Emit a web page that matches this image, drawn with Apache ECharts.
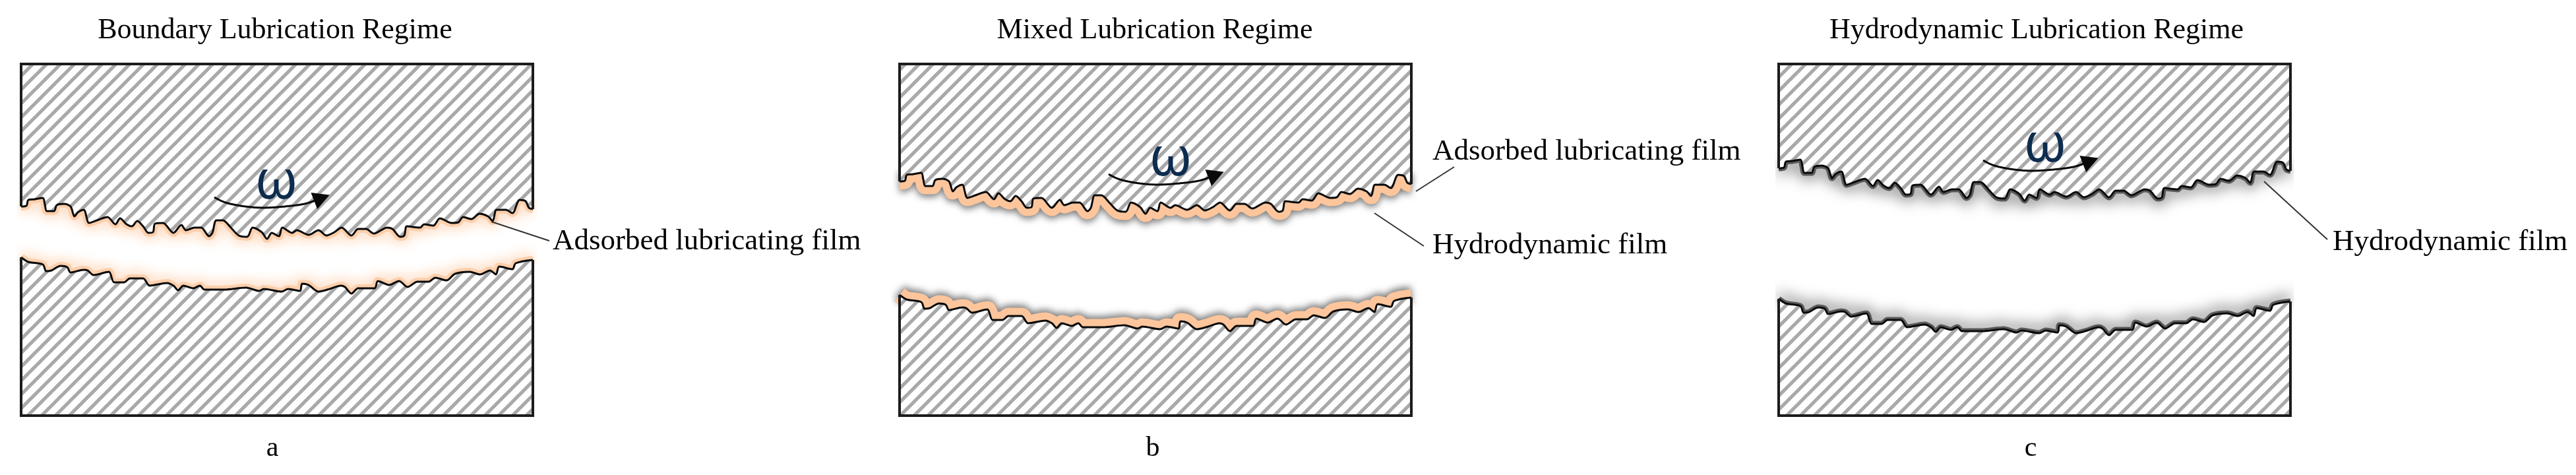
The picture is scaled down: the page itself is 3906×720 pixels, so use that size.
<!DOCTYPE html>
<html>
<head>
    <meta charset="utf-8">
    <title>Lubrication Regimes</title>
    <script src="https://cdn.jsdelivr.net/npm/echarts@6/dist/echarts.min.js"></script>
    <style type="text/css">
        html, body { margin: 0; padding: 0; background: #ffffff; }
        #main { width: 3906px; height: 720px; }
    </style>
</head>
<body>
<div id="main"></div>
<script>
    var upperX = [0, 8, 11, 21, 33, 36, 39, 50, 54, 65, 75, 81, 86, 95, 103, 115, 131, 143, 150, 160, 168, 176, 185, 193, 200, 203, 215, 231, 243, 250, 263, 273, 285, 290, 296, 306, 318, 330, 343, 351, 365, 373, 380, 391, 396, 411, 418, 436, 451, 463, 475, 486, 501, 511, 523, 535, 555, 563, 575, 581, 585, 605, 611, 625, 635, 653, 663, 670, 683, 695, 708, 715, 721, 735, 745, 756, 765, 770, 776];
    var upperY = [216, 215, 206, 205, 203, 213, 223, 223, 214, 212, 216, 231, 225, 221, 241, 237, 232, 243, 234, 243, 246, 238, 246, 256, 255, 242, 241, 256, 244, 252, 248, 248, 261, 256, 237, 237, 248, 260, 262, 248, 255, 265, 256, 261, 248, 256, 252, 259, 252, 260, 255, 248, 260, 250, 250, 257, 248, 250, 262, 260, 246, 248, 243, 245, 234, 241, 240, 232, 235, 227, 231, 238, 221, 221, 226, 206, 208, 218, 220];
    var lowerX = [0, 11, 33, 38, 46, 60, 70, 75, 95, 101, 110, 133, 141, 156, 165, 185, 195, 221, 231, 238, 246, 261, 271, 278, 308, 341, 361, 368, 395, 405, 423, 426, 436, 451, 468, 485, 491, 501, 511, 536, 541, 558, 573, 586, 601, 618, 628, 645, 658, 680, 696, 711, 720, 725, 745, 750, 776];
    var lowerY = [293, 300, 304, 314, 313, 306, 308, 316, 312, 313, 320, 315, 331, 331, 325, 325, 336, 332, 336, 343, 336, 340, 336, 342, 342, 339, 344, 341, 345, 341, 344, 333, 335, 345, 341, 336, 338, 348, 340, 340, 329, 335, 329, 338, 330, 330, 324, 328, 318, 315, 319, 313, 319, 307, 311, 302, 297];
    var arrowX = [293, 310, 340, 368, 400, 430, 448];
    var arrowY = [202, 210, 216, 218, 216, 212, 206];

    // panels
    var panelNames = ['Boundary Lubrication Regime', 'Mixed Lubrication Regime', 'Hydrodynamic Lubrication Regime'];
    var panelLetters = ['a', 'b', 'c'];
    var panelLeft = [32, 1364, 2697];
    var panelTitleX = [417, 1751, 3088];
    var panelLetterX = [413, 1748, 3079];
    var upperShift = [0, -38, -58];
    var lowerShift = [0, 57, 63];
    var arrowShiftX = [0, 24, 17];
    var arrowShiftY = [0, -35, -56];

    // callouts, in page coordinates
    var calloutText = ['Adsorbed lubricating film', 'Adsorbed lubricating film', 'Hydrodynamic film', 'Hydrodynamic film'];
    var calloutX = [838, 2172, 2172, 3537];
    var calloutY = [366, 230, 372, 367];
    var leaderStart = [[745, 336], [2147, 290], [2084, 323], [3433, 275]];
    var leaderEnd = [[833, 365], [2205, 253], [2159, 373], [3529, 363]];

    var blockWidth = 776;
    var blockHeight = 533;

    // diagonal hatching tile
    function makeHatch() {
        var size = 21;
        var c = document.createElement('canvas');
        c.width = size;
        c.height = size;
        var ctx = c.getContext('2d');
        ctx.fillStyle = '#ffffff';
        ctx.fillRect(0, 0, size, size);
        ctx.strokeStyle = '#a9a9a9';
        ctx.lineWidth = 5.2;
        [-size, 0, size].forEach(function (d) {
            ctx.beginPath();
            ctx.moveTo(d - 2, size + 2);
            ctx.lineTo(d + size + 2, -2);
            ctx.stroke();
        });
        return {image: c, repeat: 'repeat'};
    }
    var hatch = makeHatch();

    function zip(xs, ys, dx, dy) {
        return xs.map(function (x, i) {
            return [x + dx, ys[i] + dy];
        });
    }

    // film look for each regime
    var filmLook = [
        {width: 12, color: '#fdcfac', blur: 20, shadow: '#fdcfac', offset: 3},
        {width: 25, color: '#fcc59b', blur: 11, shadow: '#777777', offset: 4},
        {width: 9, color: '#5a5a5a', blur: 22, shadow: '#555555', offset: 4}
    ];

    var grids = [];
    var xAxes = [];
    var yAxes = [];
    var series = [];

    panelLeft.forEach(function (left, p) {
        grids.push({left: left, top: 97, width: blockWidth, height: blockHeight, show: false});
        xAxes.push({type: 'value', gridIndex: p, min: 0, max: blockWidth, show: false});
        yAxes.push({type: 'value', gridIndex: p, min: 0, max: blockHeight, inverse: true, show: false});

        var upper = zip(upperX, upperY, 0, upperShift[p]);
        var lower = zip(lowerX, lowerY, 0, lowerShift[p]);
        var look = filmLook[p];

        [[upper, 'start', 1], [lower, 'end', -1]].forEach(function (s) {
            var common = {type: 'line', xAxisIndex: p, yAxisIndex: p, data: s[0], symbol: 'none', smooth: 0.3, silent: true};
            // film
            series.push(Object.assign({}, common, {
                z: 1,
                lineStyle: {
                    width: look.width, color: look.color, join: 'round', cap: 'butt',
                    shadowBlur: look.blur, shadowColor: look.shadow, shadowOffsetY: look.offset * s[2]
                }
            }));
            // hatched block, opaque so that the film only shows in the gap
            series.push(Object.assign({}, common, {
                z: 2,
                lineStyle: {width: 0, opacity: 0},
                areaStyle: {color: hatch, origin: s[1], opacity: 1}
            }));
            // surface
            series.push(Object.assign({}, common, {
                z: 3,
                lineStyle: {width: 3, color: '#0a0a0a', join: 'round'}
            }));
        });

        // block outlines
        [[[0, upper[0][1]], [0, 0], [blockWidth, 0], [blockWidth, upper[upper.length - 1][1]]],
            [[0, lower[0][1]], [0, blockHeight], [blockWidth, blockHeight], [blockWidth, lower[lower.length - 1][1]]]
        ].forEach(function (outline) {
            series.push({
                type: 'line', xAxisIndex: p, yAxisIndex: p, data: outline, symbol: 'none', silent: true, clip: false, z: 4,
                lineStyle: {width: 4, color: '#1c1c1c', join: 'miter'}
            });
        });

        // rotation arrow and omega
        var arrow = zip(arrowX, arrowY, arrowShiftX[p], arrowShiftY[p]);
        series.push({
            type: 'line', xAxisIndex: p, yAxisIndex: p, data: arrow, symbol: 'none', smooth: 0.4, silent: true, z: 5,
            lineStyle: {width: 3, color: '#0a0a0a'}
        });
        series.push({
            type: 'scatter', xAxisIndex: p, yAxisIndex: p, silent: true, z: 5,
            data: [[456 + arrowShiftX[p], 203 + arrowShiftY[p]]],
            symbol: 'triangle', symbolSize: [27, 25], symbolRotate: -69,
            itemStyle: {color: '#0a0a0a', opacity: 1}
        });
        series.push({
            type: 'scatter', xAxisIndex: p, yAxisIndex: p, silent: true, z: 5,
            data: [{name: 'ω', value: [387 + arrowShiftX[p], 181 + arrowShiftY[p]]}],
            symbolSize: 1, itemStyle: {color: 'rgba(0,0,0,0)', opacity: 1},
            label: {
                show: true, position: 'inside', formatter: '{b}',
                fontFamily: 'Noto Sans', fontSize: 82, color: '#0d2c4e'
            }
        });
    });

    // full page grid for the callouts and captions
    var pageGrid = panelLeft.length;
    grids.push({left: 0, top: 0, width: 3906, height: 720, show: false});
    xAxes.push({type: 'value', gridIndex: pageGrid, min: 0, max: 3906, show: false});
    yAxes.push({type: 'value', gridIndex: pageGrid, min: 0, max: 720, inverse: true, show: false});

    leaderStart.forEach(function (a, i) {
        series.push({
            type: 'line', xAxisIndex: pageGrid, yAxisIndex: pageGrid, data: [a, leaderEnd[i]], symbol: 'none', silent: true, z: 6,
            lineStyle: {width: 2, color: '#333333'}
        });
    });

    function textSeries(names, xs, ys, align, size) {
        return {
            type: 'scatter', xAxisIndex: pageGrid, yAxisIndex: pageGrid, silent: true, z: 7,
            symbolSize: 1, itemStyle: {color: 'rgba(0,0,0,0)', opacity: 1},
            data: names.map(function (n, i) {
                return {name: n, value: [xs[i], ys[i]]};
            }),
            label: {
                show: true, position: 'inside', formatter: '{b}', align: align, verticalAlign: 'middle',
                fontFamily: 'Liberation Serif', fontSize: size, color: '#000000'
            }
        };
    }

    series.push(textSeries(panelNames, panelTitleX, [46, 46, 46], 'center', 44));
    series.push(textSeries(panelLetters, panelLetterX, [680, 680, 680], 'center', 42));
    series.push(textSeries(calloutText, calloutX, calloutY, 'left', 45));

    var chart = echarts.init(document.getElementById('main'), null, {renderer: 'canvas'});
    chart.setOption({
        animation: false,
        backgroundColor: '#ffffff',
        grid: grids,
        xAxis: xAxes,
        yAxis: yAxes,
        series: series
    });
</script>
</body>
</html>
